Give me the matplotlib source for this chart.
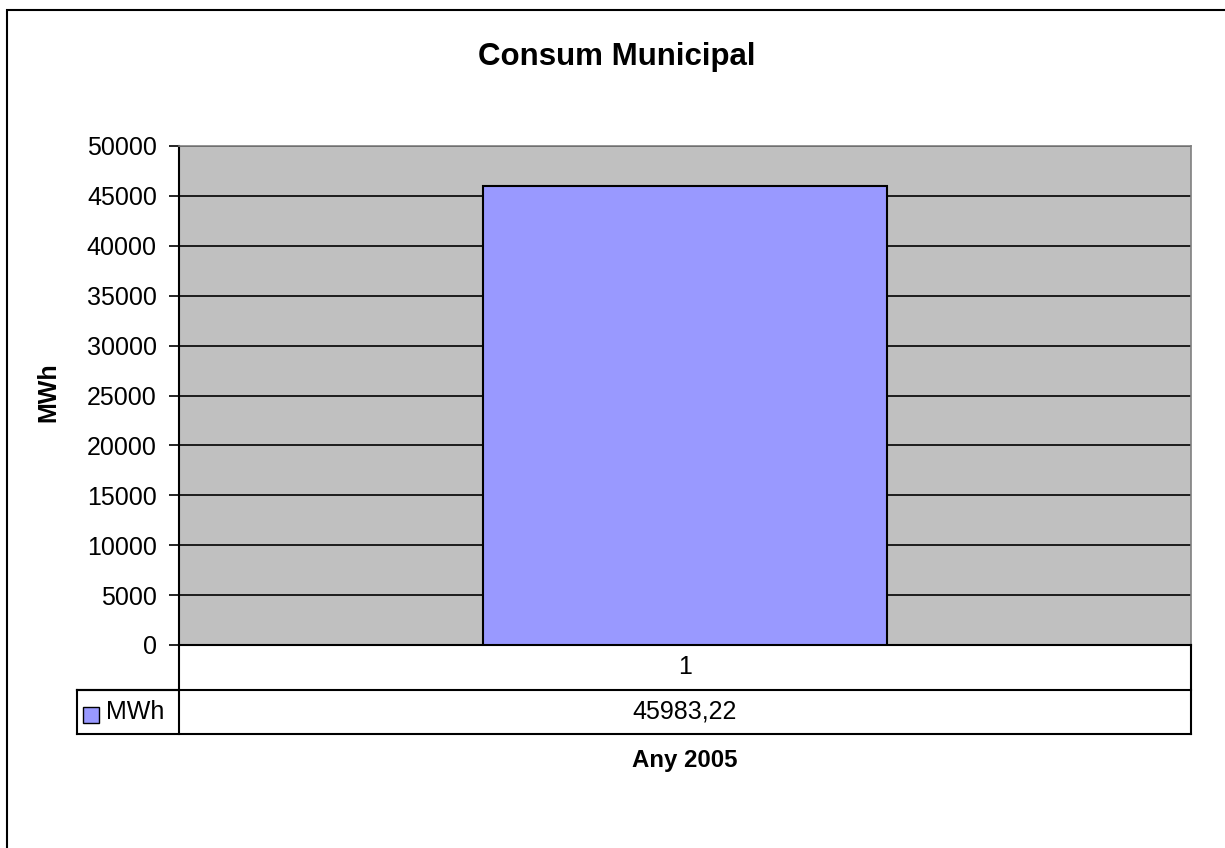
import matplotlib
matplotlib.use("Agg")
import matplotlib.pyplot as plt
from matplotlib.patches import Rectangle
from matplotlib.lines import Line2D

plt.rcParams['font.family'] = ['Liberation Sans', 'DejaVu Sans']

title = "Consum Municipal"
y_label = "MWh"
x_label = "Any 2005"
categories = ["1"]
series_name = "MWh"
values = [45983.22]
y_ticks = list(range(0, 50001, 5000))

W, H = 1225, 848
fig = plt.figure(figsize=(W / 100, H / 100), dpi=100)
fig.patch.set_facecolor("white")


def fx(px):
    return px / W


def fy(py):
    return 1 - py / H


# plot area in pixels
left, right, top, bottom = 179, 1191, 146, 645
ax = fig.add_axes([fx(left), fy(bottom), fx(right - left), fy(top) - fy(bottom)])
ax.set_facecolor("#c0c0c0")
ax.set_xlim(0.5, 1.5)
ax.set_ylim(0, 50000)
ax.set_yticks(y_ticks)
ax.set_yticklabels([str(t) for t in y_ticks], fontsize=18)
ax.yaxis.grid(True, color="black", linewidth=1.2)
ax.set_axisbelow(True)
ax.set_xticks([])
ax.tick_params(axis="y", direction="out", length=7, width=1.2, pad=9)
for s in ["top", "right"]:
    ax.spines[s].set_color("#808080")
    ax.spines[s].set_linewidth(1.2)
ax.spines["left"].set_linewidth(1.5)
ax.spines["bottom"].set_linewidth(1.5)

ax.bar([1], values, width=0.4, color="#9999ff", edgecolor="black", linewidth=1.5, zorder=3)

fig.text(fx(617), fy(57), title, fontsize=22.5, fontweight="bold", ha="center", va="center")
fig.text(fx(48), fy(392), y_label, fontsize=18, fontweight="bold", rotation=90,
         ha="center", va="center")
fig.text(fx(685), fy(761), x_label, fontsize=17.3, fontweight="bold", ha="center", va="center")

# data table under the axis
tl = 77
r1, r2, r3 = 645, 690, 734
lw = 1.5
segs = [
    ((left, r1), (left, r3)),
    ((right, r1), (right, r3)),
    ((left, r2), (tl, r2)),
    ((tl, r2), (tl, r3)),
    ((tl, r2), (right, r2)),
    ((tl, r3), (right, r3)),
]
for (x0, y0), (x1, y1) in segs:
    fig.add_artist(Line2D([fx(x0), fx(x1)], [fy(y0), fy(y1)], color="black", linewidth=lw))

fig.text(fx((left + right) / 2), fy((r1 + r2) / 2), categories[0], fontsize=18,
         ha="center", va="center")
fig.text(fx((left + right) / 2), fy((r2 + r3) / 2),
         f"{values[0]:.2f}".replace(".", ","), fontsize=18, ha="center", va="center")
fig.add_artist(Rectangle((fx(83), fy(723)), fx(16), fy(707) - fy(723),
                         facecolor="#9999ff", edgecolor="black", linewidth=1.0))
fig.text(fx(106), fy((r2 + r3) / 2), series_name, fontsize=18, ha="left", va="center")

# chart border
fig.add_artist(Rectangle((fx(7), fy(860)), fx(1240), fy(10) - fy(860),
                         facecolor="none", edgecolor="black", linewidth=1.5))

fig.savefig("out.png", dpi=100)
